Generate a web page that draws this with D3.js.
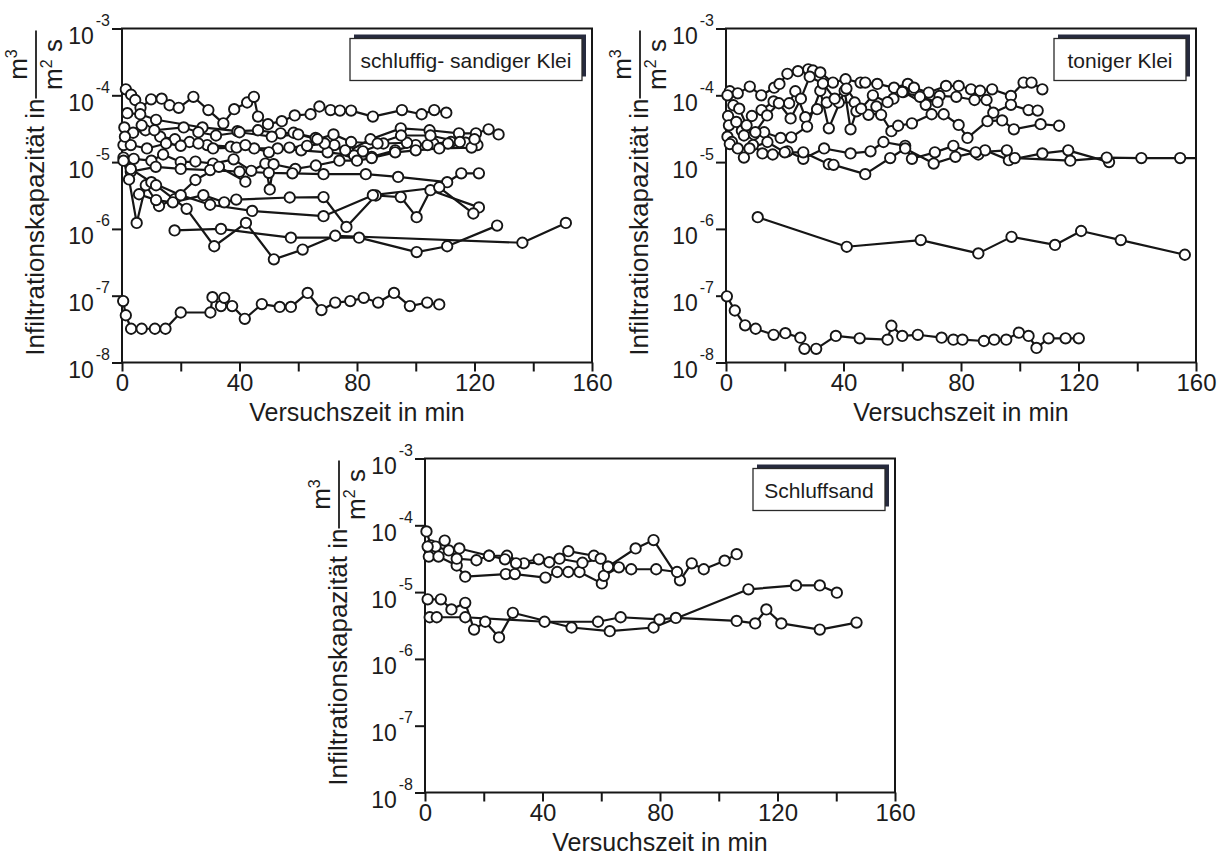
<!DOCTYPE html>
<html>
<head>
<meta charset="utf-8">
<script src="https://cdn.jsdelivr.net/npm/d3@7"></script>
<style>
  html, body { margin: 0; padding: 0; background: #fff; }
  svg { display: block; font-family: "Liberation Sans", Arial, Helvetica, sans-serif; }
</style>
</head>
<body>
<svg id="chart" width="1219" height="858"></svg>
<script>
// ---------- axis / text data ----------
const xTickValues = [0, 20, 40, 60, 80, 100, 120, 140, 160];
const xTickLabels = ["0", "", "40", "", "80", "", "120", "", "160"];
const yTickValues = [1e-8, 1e-7, 1e-6, 1e-5, 1e-4, 1e-3];
const yTickExponents = ["-8", "-7", "-6", "-5", "-4", "-3"];
const panelLabels = ["schluffig- sandiger Klei", "toniger Klei", "Schluffsand"];
const xAxisTitle = "Versuchszeit in min";
const yAxisTitle = "Infiltrationskapazität in";

// ---------- panel 1: schluffig- sandiger Klei  [time (min), value (m3/(m2 s))] ----------
const sk1 = [[1.3,1.23e-4],[3.1,1.02e-4],[4.5,8.5e-5],[6.3,6.5e-5],[9.9,8.7e-5],[13.5,8.9e-5],[16.2,7.1e-5],[19.3,6.5e-5],[24.3,9.5e-5],[29.4,6.0e-5],[34.5,3.8e-5],[38.2,6.2e-5],[42.6,7.8e-5],[44.9,9.5e-5],[46.3,4.8e-5],[49.7,3.7e-5],[54.4,4.1e-5],[58.8,5.0e-5],[64.2,5.2e-5],[67.2,6.8e-5],[71,6.0e-5],[74.2,5.9e-5],[78,5.9e-5],[85.4,4.8e-5],[95.3,6.0e-5],[102,5.2e-5],[106.3,6.0e-5],[110.4,5.5e-5]];
const sk2 = [[1.8,5.4e-5],[6.2,5.2e-5],[11.6,4.3e-5],[27.4,3.3e-5],[39.3,2.9e-5],[46.3,3.0e-5],[54,2.7e-5],[58.4,2.75e-5],[65.9,2.3e-5],[72.3,1.8e-5],[77,1.45e-5],[84.6,2.2e-5],[94.9,3.2e-5],[104.7,3.0e-5],[114.7,2.7e-5],[120.5,2.7e-5],[124.8,3.1e-5],[128.2,2.6e-5]];
const sk3 = [[0.8,3.3e-5],[3.8,2.75e-5],[8,3.0e-5],[13,2.4e-5],[18,2.2e-5],[23,2.0e-5],[29,1.8e-5],[37,1.7e-5],[45,1.6e-5],[53,1.6e-5],[61,1.5e-5],[70,1.4e-5],[79,1.26e-5],[85,1.2e-5],[93,1.5e-5],[100,1.8e-5],[106,1.9e-5],[112,2.0e-5],[120,2.1e-5]];
const sk4 = [[0.5,1.8e-5],[3,1.8e-5],[8.5,1.6e-5],[15,1.9e-5],[20,1.75e-5],[26,1.9e-5],[31,1.6e-5],[39,1.65e-5],[42,1.8e-5],[50,1.4e-5],[57,1.65e-5],[63,1.75e-5],[69,1.9e-5],[76,1.5e-5],[82,1.45e-5],[89,1.9e-5],[97,1.95e-5],[104,1.8e-5],[111,1.9e-5],[117,1.95e-5],[121,1.8e-5]];
const sk5 = [[0.5,1.17e-5],[4,1.12e-5],[10,1.05e-5],[14,1.3e-5],[20,1.0e-5],[25,1.02e-5],[31,9.5e-6],[38,1.1e-5],[44,7.4e-6],[48.8,9.5e-6],[50.3,3.9e-6],[51.6,9.3e-6],[59,7.9e-6],[66,8.9e-6],[74,1.05e-5],[80,1.05e-5],[85,1.15e-5],[93,1.4e-5],[100,1.5e-5],[108,1.6e-5],[119,1.65e-5]];
const sk6 = [[3,7.2e-6],[11.5,8.5e-6],[20,7.9e-6],[30,7.6e-6],[40,7.2e-6],[50,6.9e-6],[58,6.8e-6],[68.6,6.6e-6],[83,6.6e-6],[94,6.0e-6],[110.7,5.0e-6],[115.5,6.8e-6],[121.5,6.8e-6]];
const sk7 = [[0.5,1.05e-5],[2.4,5.5e-6],[5.0,1.23e-6],[8.1,4.5e-6],[12.6,2.2e-6],[18,2.8e-6],[25,5.4e-6],[33,8.5e-6],[42,5.1e-6]];
const sk8 = [[1,2.4e-5],[6.7,3.55e-5],[11,3.0e-5],[21,3.3e-5],[26,2.8e-5],[32,2.5e-5],[40,2.8e-5],[51,2.4e-5],[60,2.6e-5],[66.5,2.2e-5],[72,2.6e-5],[78,2.0e-5],[87,1.9e-5],[95,2.5e-5],[105,2.5e-5],[115,2.0e-5],[120,2.2e-5]];
const sk9 = [[5.8,3.3e-6],[11.6,2.7e-6],[17.3,2.5e-6],[27.7,3.2e-6],[34.8,2.5e-6],[38.9,2.75e-6],[57.1,2.95e-6],[68.6,3.0e-6],[76.4,1.07e-6],[86.4,3.16e-6],[94.9,3.0e-6],[100.3,1.5e-6],[105,3.8e-6],[121.5,2.1e-6]];
const sk10 = [[3,7.9e-6],[10,5.0e-6],[20,3.2e-6],[30,2.3e-6],[44.3,1.86e-6],[68.6,1.55e-6],[85.4,3.2e-6],[108,4.2e-6],[119.6,1.7e-6]];
const sk11 = [[17.9,9.5e-7],[33.7,1.0e-6],[57.5,7.4e-7],[80.7,7.4e-7],[100.3,4.5e-7],[110.7,5.5e-7],[127.7,1.12e-6]];
const sk12 = [[11.6,4.5e-6],[22,2.0e-6],[31.4,5.5e-7],[42.2,1.23e-6],[51.7,3.5e-7],[61.5,4.9e-7],[72.6,7.9e-7],[136.3,6.2e-7],[151.1,1.23e-6]];
const sk13 = [[0.4,8.3e-8],[1.3,5.1e-8],[3.1,3.2e-8],[6.7,3.2e-8],[11.2,3.2e-8],[14.8,3.2e-8],[20,5.6e-8],[30.1,5.6e-8],[30.8,9.5e-8],[33.7,7.0e-8],[34.8,9.3e-8],[37.5,7.0e-8],[41.8,4.5e-8],[47.6,7.5e-8],[53.7,6.8e-8],[57.5,6.8e-8],[63.2,1.1e-7],[67.9,6.1e-8],[72.6,7.9e-8],[77.7,8.3e-8],[82.3,9.3e-8],[87.2,7.9e-8],[92.6,1.1e-7],[98,7.0e-8],[103.9,7.9e-8],[108,7.4e-8]];
const sandigerKleiSeries = [sk1, sk2, sk3, sk4, sk5, sk6, sk7, sk8, sk9, sk10, sk11, sk12, sk13];

// ---------- panel 2: toniger Klei ----------
const tk1 = [[1.3,1.15e-4],[4,1.07e-4],[8.1,1.35e-4],[12,1.0e-4],[16.4,1.3e-4],[18.2,1.48e-4],[20.9,2.1e-4],[24.5,2.3e-4],[28,2.45e-4],[29.6,2.35e-4],[32.1,2.2e-4],[36.4,1.55e-4],[40.7,1.74e-4],[45.8,1.55e-4],[47.4,1.55e-4],[51.5,1.48e-4],[57.2,1.3e-4],[61.9,1.48e-4],[64,1.3e-4],[69,1.1e-4],[74.9,1.38e-4],[79.2,1.38e-4],[83.4,1.23e-4],[86.5,1.17e-4],[90.6,1.23e-4],[97,9.8e-5],[101.3,1.55e-4],[104,1.55e-4],[107.7,1.23e-4]];
const tk2 = [[0.7,4.9e-5],[5.4,2.95e-5],[8.8,4.9e-5],[12.1,6.0e-5],[16.2,8.1e-5],[21.5,7.6e-5],[23.6,1.15e-4],[27,4.7e-5],[31,6.2e-5],[34.3,7.8e-5],[38.4,7.8e-5],[43.8,7.8e-5],[48.5,5.1e-5],[51.2,6.8e-5],[57,8.9e-5],[60.5,1.12e-4],[68,7.2e-5],[72.7,9.8e-5],[78.4,9.5e-5],[84.6,8.5e-5],[88.7,8.5e-5],[91,5.5e-5],[97,7.2e-5],[103,6.0e-5],[106.1,5.9e-5]];
const tk3 = [[1,3.55e-5],[3.5,4.0e-5],[6.1,2.5e-5],[9.5,2.6e-5],[13,2.8e-5],[18.6,2.3e-5],[22.2,2.35e-5],[27.6,3.4e-5],[32.1,1.17e-4],[35,3.2e-5],[40.4,1.17e-4],[42.4,3.1e-5],[44.4,5.75e-5],[52.8,5.1e-5],[56.3,2.9e-5],[58.6,3.5e-5],[63.3,3.8e-5],[70,5.2e-5],[74.1,5.2e-5],[79.2,3.6e-5],[82.2,2.3e-5],[89,4.1e-5],[94,4.2e-5],[98,3.1e-5],[107.1,3.7e-5],[113.4,3.5e-5]];
const tk4 = [[0.5,2.4e-5],[2,2.0e-5],[6.1,1.17e-5],[9.2,1.8e-5],[12.4,1.35e-5],[15.9,1.3e-5],[20.9,1.45e-5],[26.3,1.12e-5],[33.4,1.6e-5],[42.4,1.35e-5],[49.2,1.45e-5],[53.6,2.0e-5],[61,1.75e-5],[63.3,1.12e-5],[71.1,1.4e-5],[77.4,1.75e-5],[85.9,1.3e-5],[88.2,1.5e-5],[96.3,1.07e-5],[107.7,1.35e-5],[116.5,1.5e-5],[130.4,1.0e-5]];
const tk5 = [[1.3,1.86e-5],[4,1.6e-5],[8,1.6e-5],[14.1,2.0e-5],[20,1.4e-5],[26.3,1.4e-5],[35,9.3e-6],[36.6,9.1e-6],[47.4,6.6e-6],[55.9,1.15e-5],[61,1.6e-5],[70.7,9.5e-6],[78.1,1.2e-5],[85,1.4e-5],[95.6,1.5e-5],[98.3,1.15e-5],[117.2,1.05e-5],[129.6,1.17e-5],[141.4,1.15e-5],[154.6,1.15e-5],[165,1.15e-5]];
const tk6 = [[0.5,1.0e-4],[2.5,7.1e-5],[4.5,6.3e-5],[7,3.55e-5],[10,2.8e-5],[14,5.0e-5],[18,7.6e-5],[22,4.5e-5],[25.5,8.9e-5],[28.5,1.9e-4],[33,1.5e-4],[37,8.9e-5],[41,1.26e-4],[46,6.3e-5],[50,1.0e-4],[55,7.9e-5],[60,1.12e-4],[66,9.5e-5],[72,7.9e-5]];
const tk7 = [[10.8,1.5e-6],[41.1,5.4e-7],[66.3,6.8e-7],[85.9,4.3e-7],[97.2,7.6e-7],[112,5.75e-7],[120.9,9.3e-7],[134.4,6.8e-7],[156.2,4.1e-7]];
const tk8 = [[0.3,9.8e-8],[3,6.0e-8],[6.5,3.6e-8],[10.1,3.2e-8],[16.2,2.6e-8],[20.2,2.75e-8],[25.3,2.35e-8],[26.7,1.6e-8],[30.7,1.6e-8],[37.4,2.5e-8],[45.5,2.3e-8],[55,2.2e-8],[56.3,3.55e-8],[60,2.5e-8],[65.3,2.6e-8],[73.4,2.35e-8],[77.4,2.2e-8],[80.5,2.2e-8],[87.8,2.1e-8],[91.3,2.2e-8],[95.4,2.2e-8],[99.7,2.8e-8],[103,2.5e-8],[105.7,1.65e-8],[109.8,2.3e-8],[115.6,2.3e-8],[120.1,2.3e-8]];
const tonigerKleiSeries = [tk1, tk2, tk3, tk4, tk5, tk6, tk7, tk8];

// ---------- panel 3: Schluffsand ----------
const sf1 = [[0.5,8.1e-5],[2,5.0e-5],[3.6,4.8e-5],[8.1,4.2e-5],[11.7,4.5e-5],[21.8,3.5e-5],[27.9,3.5e-5],[33.7,2.7e-5],[42.3,2.8e-5],[48.8,4.1e-5],[57.5,3.5e-5],[62.3,2.4e-5],[71.7,4.5e-5],[77.8,6.0e-5],[86.8,1.5e-5],[90.8,2.7e-5],[94.9,2.2e-5],[102,2.95e-5],[106.1,3.7e-5]];
const sf2 = [[1.3,3.4e-5],[4.6,3.4e-5],[10.8,2.5e-5],[13.7,1.7e-5],[27.5,1.86e-5],[30.6,1.86e-5],[41,1.65e-5],[45,2.0e-5],[48.8,2.0e-5],[52.6,2.0e-5],[60.2,1.35e-5],[60.9,1.75e-5],[66,2.35e-5],[70.2,2.2e-5],[78.7,2.2e-5],[85.8,2.0e-5]];
const sf3 = [[0.9,4.8e-5],[6.7,5.9e-5],[10.8,3.16e-5],[17.5,3.0e-5],[21.8,3.5e-5],[27.2,3.1e-5],[31,2.7e-5],[38.7,3.1e-5],[45.8,3.16e-5],[53.6,2.75e-5],[59.8,3.16e-5],[62.3,2.4e-5]];
const sf4 = [[0.9,7.8e-6],[5.4,7.8e-6],[9,5.5e-6],[13.7,6.9e-6],[16.7,2.75e-6],[20.5,3.6e-6],[25.2,2.1e-6],[29.9,4.9e-6],[49.9,2.95e-6],[62.9,2.6e-6],[77.8,2.95e-6],[110.1,1.1e-5],[126.3,1.26e-5],[134.4,1.26e-5],[140.2,9.8e-6]];
const sf5 = [[1.6,4.2e-6],[4,4.2e-6],[13.7,4.2e-6],[40.7,3.6e-6],[58.9,3.6e-6],[66.6,4.2e-6],[79.8,3.9e-6],[85.4,4.1e-6],[106.1,3.7e-6],[112.4,3.4e-6],[116.2,5.5e-6],[121.3,3.4e-6],[134.4,2.75e-6],[146.9,3.5e-6]];
const schluffsandSeries = [sf1, sf2, sf3, sf4, sf5];

// ---------- layout ----------
const W = 470, H = 334;
const panels = [
  { ox: 122, oy: 28.5, series: sandigerKleiSeries, label: panelLabels[0], boxW: 232 },
  { ox: 726, oy: 28.5, series: tonigerKleiSeries, label: panelLabels[1], boxW: 132 },
  { ox: 425, oy: 458.5, series: schluffsandSeries, label: panelLabels[2], boxW: 132 }
];
const INK = "#161616";
const TXT = "#1c1c1c";
const FONT = '"Liberation Sans", Arial, sans-serif';

const svg = d3.select("#chart");
const x = d3.scaleLinear().domain([0, 160]).range([0, W]);
const y = d3.scaleLog().domain([1e-8, 1e-3]).range([H, 0]);
const line = d3.line().x(d => x(d[0])).y(d => y(d[1]));

panels.forEach((p, i) => {
  const g = svg.append("g").attr("transform", `translate(${p.ox},${p.oy})`);

  const clipId = "clip" + i, clipC = "clipc" + i;
  const defs = g.append("defs");
  defs.append("clipPath").attr("id", clipId).append("rect").attr("x", 0).attr("y", 0).attr("width", W).attr("height", H);
  defs.append("clipPath").attr("id", clipC).append("rect").attr("x", -8).attr("y", -8).attr("width", W + 8).attr("height", H + 16);

  // x axis
  const xa = g.append("g").attr("transform", `translate(0,${H})`)
    .call(d3.axisBottom(x).tickValues(xTickValues).tickSize(9).tickPadding(2)
      .tickFormat((d, k) => xTickLabels[k]));
  xa.select(".domain").remove();
  xa.selectAll("line").attr("stroke", INK).attr("stroke-width", 2);
  xa.selectAll("text").attr("font-size", 24).attr("fill", TXT).attr("font-family", FONT);

  // y axis
  const ya = g.append("g")
    .call(d3.axisLeft(y).tickValues(yTickValues).tickSize(10).tickFormat(""));
  ya.select(".domain").remove();
  ya.selectAll("line").attr("stroke", INK).attr("stroke-width", 2);
  ya.selectAll(".tick").each(function(d, k) {
    const t = d3.select(this).append("text")
      .attr("x", -12).attr("y", 15).attr("text-anchor", "end")
      .attr("font-size", 23).attr("fill", TXT).attr("font-family", FONT);
    t.append("tspan").text("10");
    t.append("tspan").attr("dx", 2).attr("dy", -18).attr("font-size", 16).text(yTickExponents[k]);
  });

  // frame
  g.append("rect").attr("x", 0).attr("y", 0).attr("width", W).attr("height", H)
    .attr("fill", "none").attr("stroke", INK).attr("stroke-width", 2);

  // legend box with offset shadow
  const bx = W - 10 - p.boxW, by = 10, bh = 42;
  g.append("rect").attr("x", bx + 4).attr("y", by - 4).attr("width", p.boxW).attr("height", bh)
    .attr("fill", "#262a3e");
  g.append("rect").attr("x", bx).attr("y", by).attr("width", p.boxW).attr("height", bh)
    .attr("fill", "#fff").attr("stroke", "#2a2a2a").attr("stroke-width", 1.3);
  g.append("text").attr("x", bx + p.boxW / 2).attr("y", by + 29).attr("text-anchor", "middle")
    .attr("font-size", 21).attr("fill", TXT).text(p.label);

  // lines
  g.append("g").attr("clip-path", `url(#${clipId})`).selectAll("path").data(p.series).join("path")
    .attr("d", line).attr("fill", "none").attr("stroke", INK).attr("stroke-width", 2.2)
    .attr("stroke-linejoin", "round");

  // circles
  g.append("g").attr("clip-path", `url(#${clipC})`).selectAll("circle")
    .data(p.series.flat()).join("circle")
    .attr("cx", d => x(d[0])).attr("cy", d => y(d[1])).attr("r", 5.2)
    .attr("fill", "#fff").attr("stroke", INK).attr("stroke-width", 1.9);

  // x axis title
  g.append("text").attr("x", W / 2).attr("y", H + 58).attr("text-anchor", "middle")
    .attr("font-size", 25).attr("fill", TXT).text(xAxisTitle);

  // y axis title (rotated) + fraction m3 / (m2 s)
  g.append("text").attr("transform", `translate(-78,70) rotate(-90)`)
    .attr("text-anchor", "end").attr("font-size", 26).attr("fill", TXT).text(yAxisTitle);
  const fr = g.append("g").attr("transform", `translate(-86,36) rotate(-90)`);
  fr.append("line").attr("x1", -34).attr("x2", 34).attr("y1", 0).attr("y2", 0)
    .attr("stroke", TXT).attr("stroke-width", 1.8);
  const num = fr.append("text").attr("x", 0).attr("y", -9).attr("text-anchor", "middle")
    .attr("font-size", 26).attr("fill", TXT);
  num.append("tspan").text("m");
  num.append("tspan").attr("dy", -10).attr("font-size", 16).text("3");
  const den = fr.append("text").attr("x", 0).attr("y", 26).attr("text-anchor", "middle")
    .attr("font-size", 26).attr("fill", TXT);
  den.append("tspan").text("m");
  den.append("tspan").attr("dy", -10).attr("font-size", 16).text("2");
  den.append("tspan").attr("dy", 10).text(" s");
});
</script>
</body>
</html>
